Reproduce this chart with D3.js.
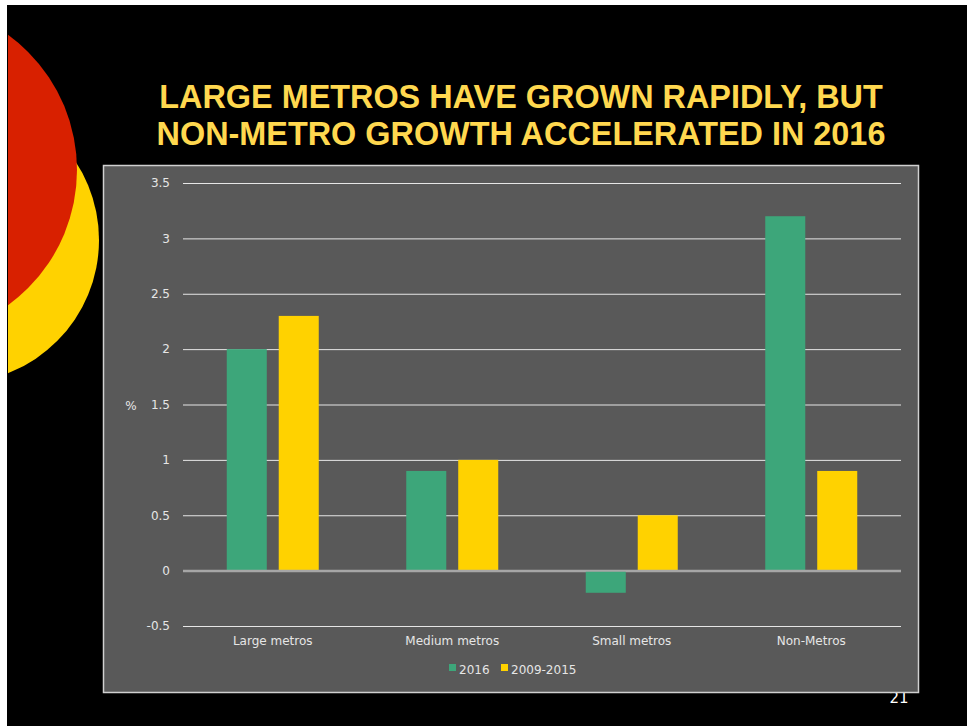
<!DOCTYPE html>
<html>
<head>
<meta charset="utf-8">
<script src="https://cdn.jsdelivr.net/npm/d3@7"></script>
<style>
  body { margin: 0; background: #fff; }
  svg { display: block; }
</style>
</head>
<body>
<div id="chart"></div>
<script>
var categories = ["Large metros", "Medium metros", "Small metros", "Non-Metros"];
var seriesNames = ["2016", "2009-2015"];
var values2016 = [2.0, 0.9, -0.2, 3.2];
var values2009 = [2.3, 1.0, 0.5, 0.9];
var yTicks = [-0.5, 0, 0.5, 1, 1.5, 2, 2.5, 3, 3.5];
var colors = ["#3da67a", "#ffd200"];

function init() {
    var w = 967, h = 726;
    var svg = d3.select("#chart").append("svg")
        .attr("width", w).attr("height", h);

    // slide background
    svg.append("rect").attr("x", 7).attr("y", 5)
        .attr("width", w - 7).attr("height", h - 5).attr("fill", "#000");

    // decorative circles
    svg.append("clipPath").attr("id", "slideClip")
        .append("rect").attr("x", 8).attr("y", 5).attr("width", w).attr("height", h);
    var deco = svg.append("g").attr("clip-path", "url(#slideClip)");
    deco.append("circle").attr("cx", -44).attr("cy", 240).attr("r", 143).attr("fill", "#ffd200");
    deco.append("circle").attr("cx", -90).attr("cy", 170).attr("r", 167).attr("fill", "#d82000");

    // title
    var title = svg.append("text")
        .attr("x", 521).attr("text-anchor", "middle")
        .attr("fill", "#ffd84f")
        .style("font-family", "'Liberation Sans', Arial, sans-serif")
        .style("font-weight", "bold")
        .style("font-size", "32.4px");
    title.append("tspan").attr("x", 521).attr("y", 108).text("LARGE METROS HAVE GROWN RAPIDLY, BUT");
    title.append("tspan").attr("x", 521).attr("y", 145).text("NON-METRO GROWTH ACCELERATED IN 2016");

    // page number (sits under the chart box)
    svg.append("text").attr("x", 899).attr("y", 703).attr("text-anchor", "middle")
        .attr("fill", "#fff")
        .style("font-family", "'DejaVu Sans', sans-serif")
        .style("font-size", "15px")
        .text("21");

    // chart box
    svg.append("rect").attr("x", 103.5).attr("y", 165.5)
        .attr("width", 815).attr("height", 527)
        .attr("fill", "#595959").attr("stroke", "#d0d0d0").attr("stroke-width", 1.5);

    var x0 = 183, x1 = 901;
    var yScale = d3.scaleLinear().domain([-0.5, 3.5]).range([626, 183]);
    var xScale = d3.scaleBand().domain(categories).range([x0, x1]);
    var xSub = d3.scaleBand().domain(seriesNames).range([0, 92]).paddingInner(0.23);

    var font = "'DejaVu Sans', Verdana, sans-serif";

    // gridlines
    var yAxis = d3.axisLeft(yScale).tickValues(yTicks)
        .tickSize(-(x1 - x0)).tickFormat(function(d) { return d; });
    var gy = svg.append("g").attr("transform", "translate(" + x0 + ",0)").call(yAxis);
    gy.select(".domain").remove();
    gy.selectAll(".tick line")
        .attr("stroke", function(d) { return d === 0 ? "#a6a6a6" : "#e6e6e6"; })
        .attr("stroke-width", function(d) { return d === 0 ? 2 : 1; });
    gy.selectAll(".tick text").attr("x", -13).attr("fill", "#e6e6e6")
        .style("font-family", font).style("font-size", "12px");

    // bars
    var data = categories.map(function(c, i) {
        return { cat: c, vals: [values2016[i], values2009[i]] };
    });
    var groups = svg.selectAll(".grp").data(data).enter().append("g")
        .attr("transform", function(d) {
            return "translate(" + (xScale(d.cat) + xScale.bandwidth() / 2 - 46) + ",0)";
        });
    groups.selectAll("rect").data(function(d) {
        return d.vals.map(function(v, j) { return { s: seriesNames[j], v: v, j: j }; });
    }).enter().append("rect")
        .attr("x", function(d) { return xSub(d.s); })
        .attr("width", xSub.bandwidth())
        .attr("y", function(d) { return yScale(Math.max(0, d.v)); })
        .attr("height", function(d) { return Math.abs(yScale(d.v) - yScale(0)); })
        .attr("fill", function(d) { return colors[d.j]; });

    // redraw zero line above bars
    svg.append("line").attr("x1", x0).attr("x2", x1)
        .attr("y1", yScale(0)).attr("y2", yScale(0))
        .attr("stroke", "#a6a6a6").attr("stroke-width", 2);

    // category labels
    var xAxis = d3.axisBottom(xScale).tickSize(0);
    var gx = svg.append("g").attr("transform", "translate(0,633)").call(xAxis);
    gx.select(".domain").remove();
    gx.selectAll(".tick text").attr("fill", "#e6e6e6").attr("dy", "0.71em")
        .style("font-family", font).style("font-size", "12px");

    // axis title
    svg.append("text").attr("x", 131).attr("y", 410).attr("text-anchor", "middle")
        .attr("fill", "#e6e6e6").style("font-family", font).style("font-size", "12px")
        .text("%");

    // legend
    var legend = svg.append("g").attr("transform", "translate(449,670)");
    var lx = [0, 52];
    seriesNames.forEach(function(s, i) {
        legend.append("rect").attr("x", lx[i]).attr("y", -6).attr("width", 7).attr("height", 7)
            .attr("fill", colors[i]);
        legend.append("text").attr("x", lx[i] + 10).attr("y", 4)
            .attr("fill", "#e6e6e6").style("font-family", font).style("font-size", "12px")
            .text(s);
    });
}

window.onload = init;
</script>
</body>
</html>
